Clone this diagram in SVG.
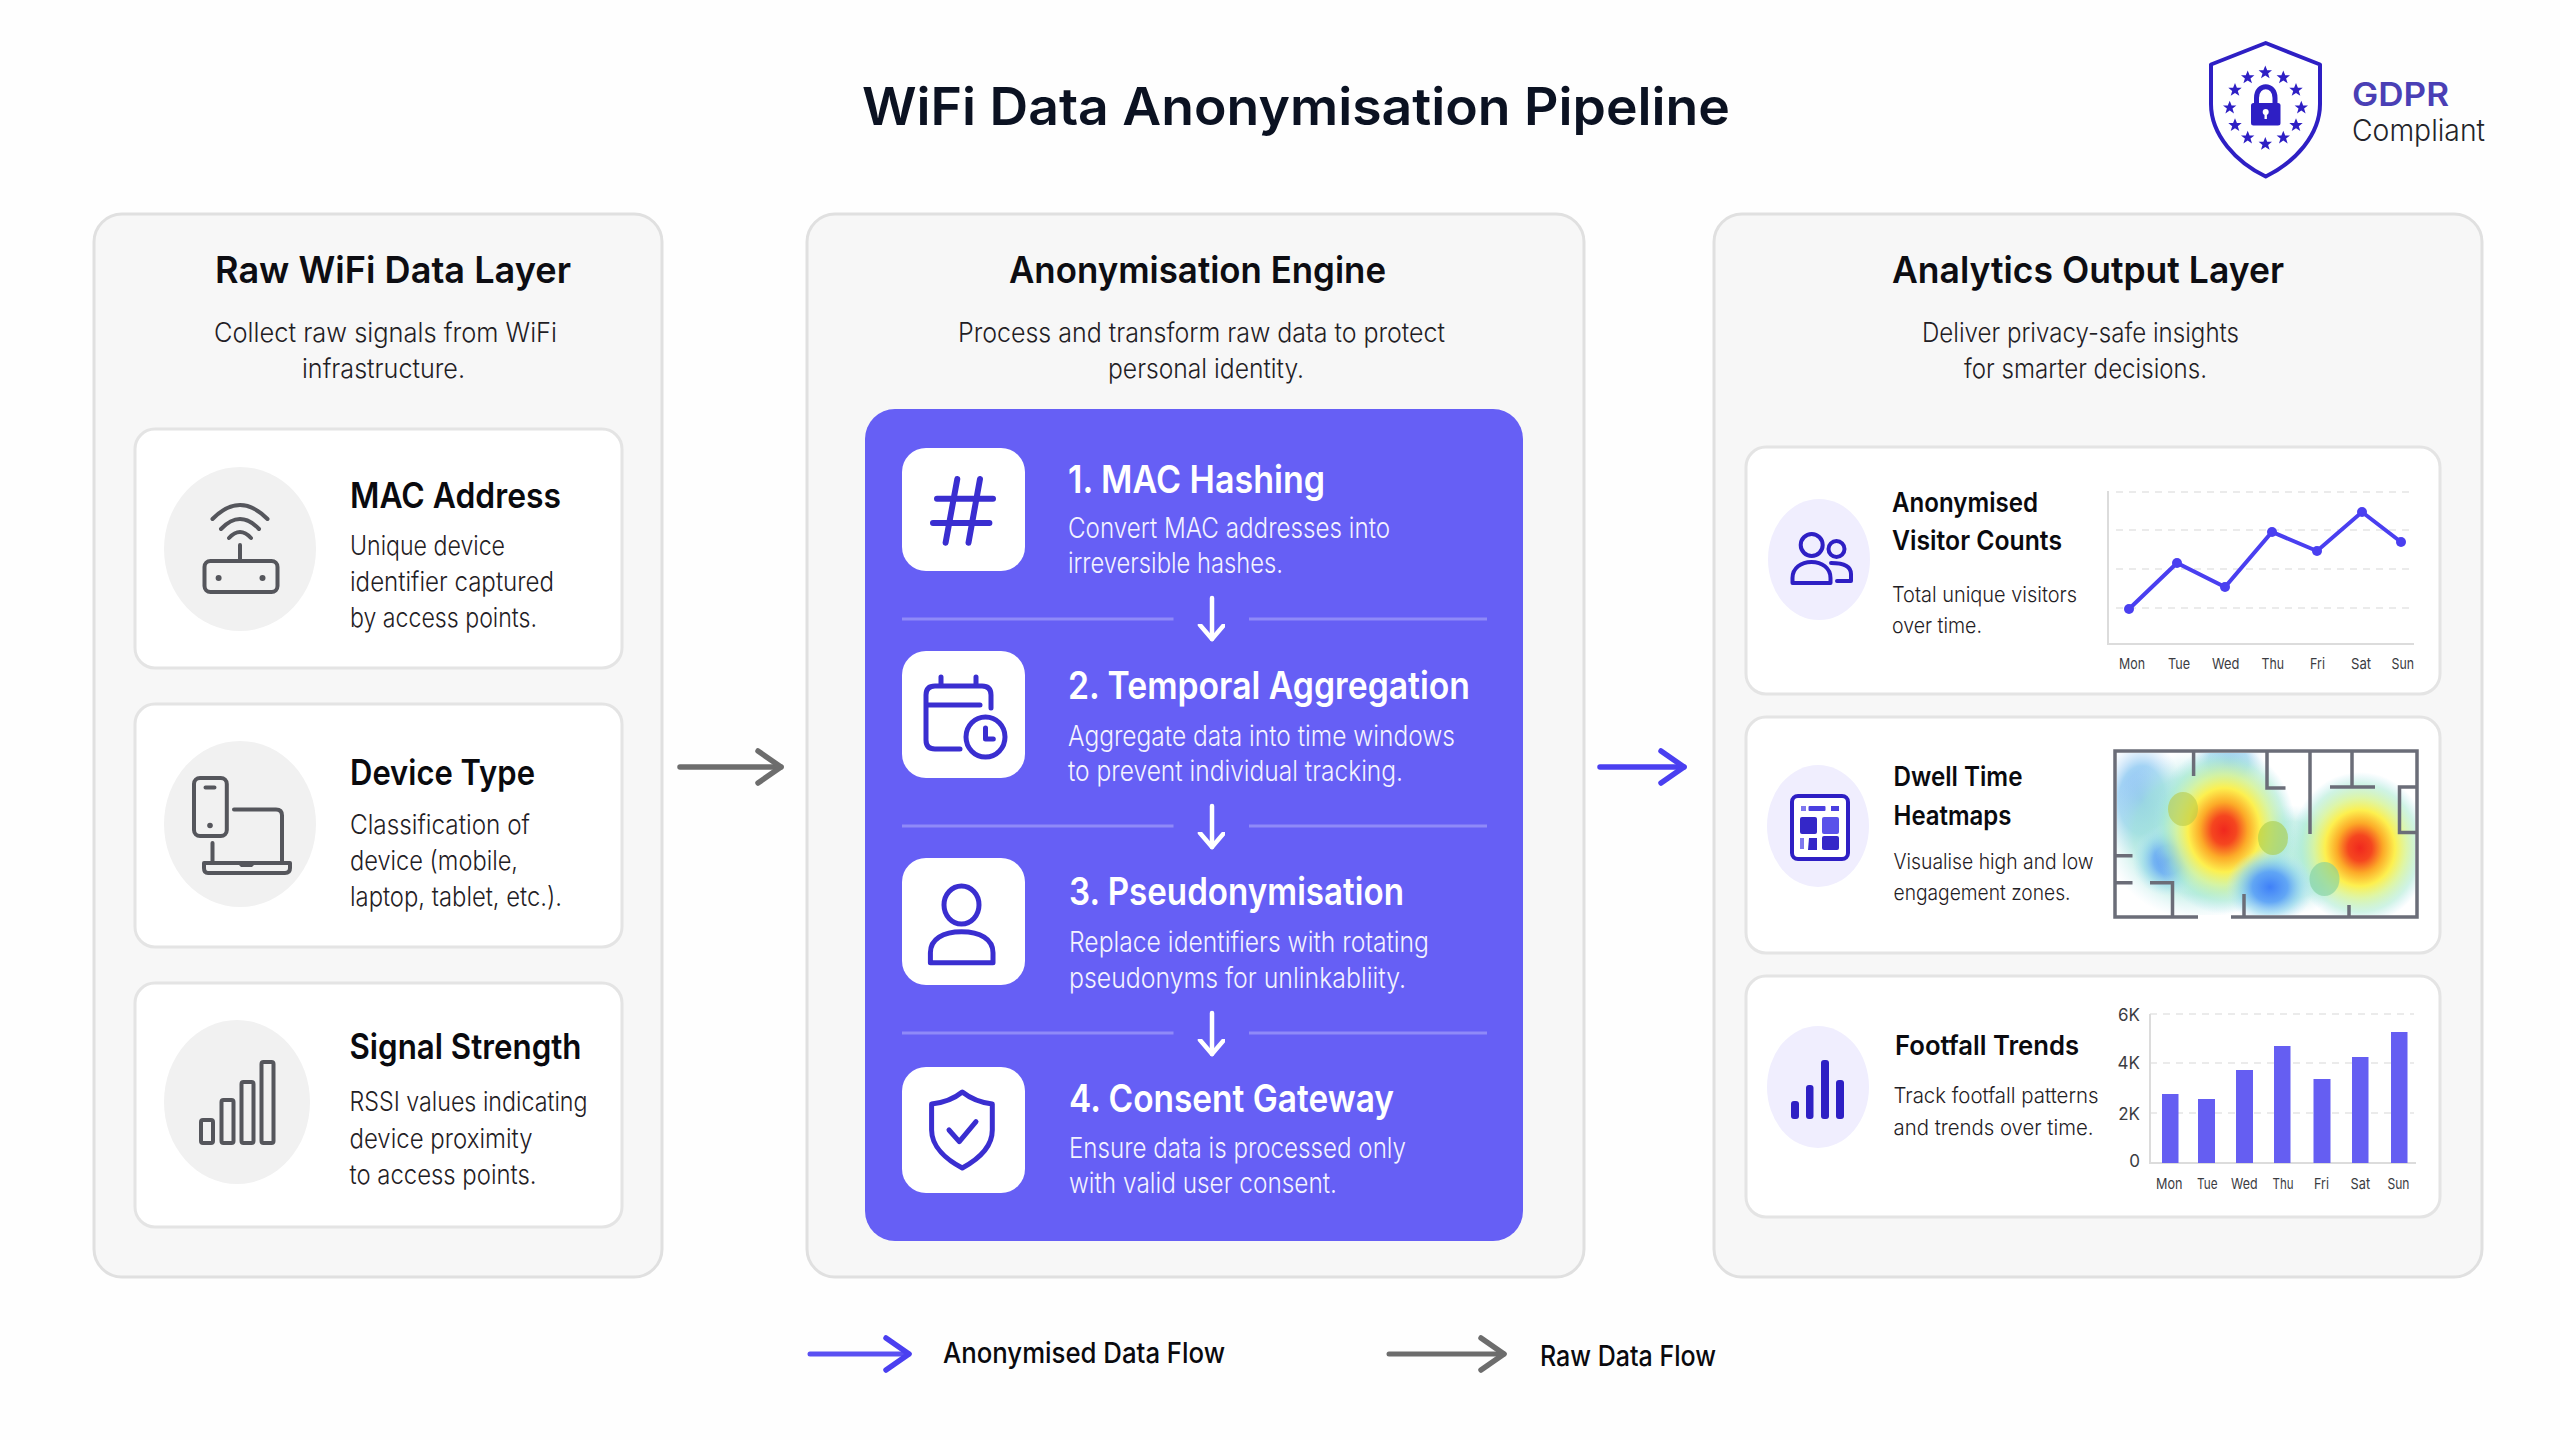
<svg xmlns="http://www.w3.org/2000/svg" width="2560" height="1440" viewBox="0 0 2560 1440">
<style>
text{font-family:"Inter","Liberation Sans",sans-serif}
.panel{fill:#f7f7f7;stroke:#e0e0e0;stroke-width:3}
.card{fill:#fff;stroke:#e4e4e4;stroke-width:3}
.ph{font-size:37px;font-weight:600;fill:#0d0d12}
.ps{font-size:27px;font-weight:300;fill:#1f2024}
.ct{font-size:35px;font-weight:600;fill:#0a0a0e}
.cb{font-size:27px;font-weight:300;fill:#1f2024}
.st{font-size:38px;font-weight:600;fill:#fff}
.sb{font-size:28px;font-weight:300;fill:#f4f3ff}
.at{font-size:27px;font-weight:600;fill:#0a0a0e}
.ab{font-size:22px;font-weight:300;fill:#1f2024}
.ax{font-size:15px;font-weight:400;fill:#3b3c42}
.gi{fill:none;stroke:#55565c;stroke-width:4;stroke-linecap:round;stroke-linejoin:round}
.bi{fill:none;stroke:#3a2ed0;stroke-width:5;stroke-linecap:round;stroke-linejoin:round}
.vi{fill:none;stroke:#2e1fc4;stroke-width:4;stroke-linecap:round;stroke-linejoin:round}
.grid{stroke:#ebebeb;stroke-width:2;stroke-dasharray:7 6;fill:none}
.axis{stroke:#dcdcdc;stroke-width:2;fill:none}
.wall{stroke:#6b6d78;stroke-width:3.5;fill:none}
.div{stroke:#8f8af8;stroke-width:3}
.bar{fill:#655ef2}
.dot{fill:#4a3ff0}
.lc{fill:#f1f1f1}
.vc{fill:#f0eefe}
.box{fill:#fff}
</style>
<defs>
<radialGradient id="hot">
<stop offset="0" stop-color="#f0281e"/>
<stop offset=".17" stop-color="#f5461f"/>
<stop offset=".33" stop-color="#fcaa28"/>
<stop offset=".5" stop-color="#fdf04f"/>
<stop offset=".66" stop-color="#d8f498" stop-opacity=".85"/>
<stop offset=".84" stop-color="#a8ead0" stop-opacity=".55"/>
<stop offset="1" stop-color="#a8e0f0" stop-opacity="0"/>
</radialGradient>
<radialGradient id="cold">
<stop offset="0" stop-color="#3f80f8"/>
<stop offset=".4" stop-color="#5ca2f6" stop-opacity=".95"/>
<stop offset=".7" stop-color="#90d4ee" stop-opacity=".65"/>
<stop offset="1" stop-color="#c0e8f8" stop-opacity="0"/>
</radialGradient>
<radialGradient id="pale">
<stop offset="0" stop-color="#7fb3f5"/>
<stop offset=".55" stop-color="#8cc8f2" stop-opacity=".8"/>
<stop offset="1" stop-color="#d0e4fa" stop-opacity="0"/>
</radialGradient>
<radialGradient id="teal">
<stop offset="0" stop-color="#9fe8cc"/>
<stop offset=".7" stop-color="#a6e8d8" stop-opacity=".8"/>
<stop offset="1" stop-color="#c8ecf6" stop-opacity="0"/>
</radialGradient>
<clipPath id="hm"><rect x="2117" y="753" width="298" height="162"/></clipPath>
<marker id="ag" markerUnits="userSpaceOnUse" markerWidth="40" markerHeight="44" refX="26" refY="20" orient="auto"><path d="M3 4L26 20L3 36" fill="none" stroke="#6d6d6d" stroke-width="5.5" stroke-linecap="round" stroke-linejoin="round"/></marker>
<marker id="ab" markerUnits="userSpaceOnUse" markerWidth="40" markerHeight="44" refX="26" refY="20" orient="auto"><path d="M3 4L26 20L3 36" fill="none" stroke="#4a3ff0" stroke-width="5.5" stroke-linecap="round" stroke-linejoin="round"/></marker>
<marker id="aw" markerUnits="userSpaceOnUse" markerWidth="20" markerHeight="30" refX="15" refY="13" orient="auto"><path d="M1 1L15 13L1 25" fill="none" stroke="#fff" stroke-width="4.5" stroke-linecap="round" stroke-linejoin="round"/></marker>
<path id="star" d="M0-7L1.900-2.200L6.700-2.200L2.800.9L4.300 5.800L0 2.900L-4.300 5.800L-2.800.9L-6.700-2.200L-1.900-2.200Z" fill="#2e1fc4"/>
</defs>
<rect width="2560" height="1440" fill="#fefefe"/>

<g id="title"><text x="862" y="125" font-size="52" font-weight="600" fill="#0b1222" textLength="868" lengthAdjust="spacingAndGlyphs">WiFi Data Anonymisation Pipeline</text></g>

<g id="gdpr-badge">
<path d="M2265.700 43L2211 64.500V104C2211 135 2236 162 2265.700 176.500C2295 162 2320 135 2320 104V64.500Z" fill="#fff" stroke="#2e1fc4" stroke-width="4" stroke-linejoin="round"/>
<use href="#star" x="2265.300" y="72.500"/><use href="#star" x="2283.300" y="77.500"/><use href="#star" x="2296" y="90"/><use href="#star" x="2301.300" y="107.700"/><use href="#star" x="2296" y="125.300"/><use href="#star" x="2283.300" y="137.700"/><use href="#star" x="2265.300" y="144"/><use href="#star" x="2247.700" y="137.700"/><use href="#star" x="2235" y="125.300"/><use href="#star" x="2229.700" y="107.700"/><use href="#star" x="2235" y="90"/><use href="#star" x="2247.700" y="77.500"/>
<path d="M2256.500 104V98C2256.500 83 2275 83 2275 98V104" fill="none" stroke="#2e1fc4" stroke-width="5"/>
<rect x="2251" y="103" width="29.500" height="22.500" rx="2.500" fill="#2e1fc4"/>
<circle cx="2265.700" cy="112" r="3" fill="#fff"/><rect x="2264.500" y="112" width="2.400" height="7" fill="#fff"/>
<text x="2352" y="105.500" font-size="33" font-weight="600" fill="#4a3fb5" textLength="97" lengthAdjust="spacingAndGlyphs">GDPR</text>
<text x="2352" y="141" font-size="30" font-weight="300" fill="#23242a" textLength="133" lengthAdjust="spacingAndGlyphs">Compliant</text>
</g>

<g id="panel-raw">
<rect class="panel" x="94" y="214" width="568" height="1063" rx="28"/>
<text class="ph" x="215" y="283" textLength="356" lengthAdjust="spacingAndGlyphs">Raw WiFi Data Layer</text>
<text class="ps" x="214" y="342" textLength="343" lengthAdjust="spacingAndGlyphs">Collect raw signals from WiFi</text>
<text class="ps" x="302" y="378" textLength="163" lengthAdjust="spacingAndGlyphs">infrastructure.</text>
</g>

<g id="node-mac">
<rect class="card" x="135" y="429" width="487" height="239" rx="20"/>
<ellipse class="lc" cx="240" cy="549" rx="76" ry="82"/>
<path class="gi" d="M212.500 519Q240 491 267.500 519M221 529Q240 509 259 529M229 538Q240 526 251 538M240 545V561"/>
<rect class="gi" x="204.500" y="561" width="73" height="31" rx="6"/>
<circle cx="218.600" cy="578" r="3" fill="#55565c"/><circle cx="262.500" cy="578" r="3" fill="#55565c"/>
<text class="ct" x="350" y="508" textLength="211" lengthAdjust="spacingAndGlyphs">MAC Address</text>
<text class="cb" x="350" y="555" textLength="155" lengthAdjust="spacingAndGlyphs">Unique device</text>
<text class="cb" x="350" y="591" textLength="204" lengthAdjust="spacingAndGlyphs">identifier captured</text>
<text class="cb" x="350" y="627" textLength="187" lengthAdjust="spacingAndGlyphs">by access points.</text>
</g>

<g id="node-device">
<rect class="card" x="135" y="704" width="487" height="243" rx="20"/>
<ellipse class="lc" cx="240" cy="824" rx="76" ry="83"/>
<rect class="gi" x="194" y="778" width="32.800" height="58" rx="6"/>
<path class="gi" d="M205.500 787.500H214.500M234 809.500H276Q282 809.500 282 815.500V863M212.500 843V863"/>
<circle cx="210" cy="825.500" r="2.800" fill="#55565c"/>
<path class="gi" d="M204 863H290V868Q290 873 285 873H208Q204 873 204 868Z"/>
<path d="M238 864H255L252 867H241Z" fill="#55565c"/>
<text class="ct" x="350" y="785" textLength="185" lengthAdjust="spacingAndGlyphs">Device Type</text>
<text class="cb" x="350" y="834" textLength="180" lengthAdjust="spacingAndGlyphs">Classification of</text>
<text class="cb" x="350" y="870" textLength="168" lengthAdjust="spacingAndGlyphs">device (mobile,</text>
<text class="cb" x="350" y="906" textLength="212" lengthAdjust="spacingAndGlyphs">laptop, tablet, etc.).</text>
</g>

<g id="node-signal">
<rect class="card" x="135" y="983" width="487" height="244" rx="20"/>
<ellipse class="lc" cx="237" cy="1102" rx="73" ry="82"/>
<rect class="gi" x="201" y="1120" width="12" height="23" rx="2"/>
<rect class="gi" x="221.500" y="1100" width="12" height="43" rx="2"/>
<rect class="gi" x="241.500" y="1082" width="12" height="61" rx="2"/>
<rect class="gi" x="261.500" y="1062" width="12" height="81" rx="2"/>
<text class="ct" x="349.500" y="1059" textLength="232" lengthAdjust="spacingAndGlyphs">Signal Strength</text>
<text class="cb" x="349.500" y="1111" textLength="238" lengthAdjust="spacingAndGlyphs">RSSI values indicating</text>
<text class="cb" x="349.500" y="1148" textLength="183" lengthAdjust="spacingAndGlyphs">device proximity</text>
<text class="cb" x="349.500" y="1184" textLength="187" lengthAdjust="spacingAndGlyphs">to access points.</text>
</g>

<g id="panel-engine">
<rect class="panel" x="807" y="214" width="777" height="1063" rx="28"/>
<text class="ph" x="1009" y="283" textLength="377" lengthAdjust="spacingAndGlyphs">Anonymisation Engine</text>
<text class="ps" x="958" y="342" textLength="487" lengthAdjust="spacingAndGlyphs">Process and transform raw data to protect</text>
<text class="ps" x="1108" y="378" textLength="196" lengthAdjust="spacingAndGlyphs">personal identity.</text>
<rect x="865" y="409" width="658" height="832" rx="30" fill="#665ff5"/>
</g>

<g id="step-hash">
<rect class="box" x="902" y="448" width="123" height="123" rx="24"/>
<path class="bi" d="M957.300 479L945.600 542.700M980 479L968.500 542.700M937 498.700H993M933 523H989.400" style="stroke-width:6"/>
<text class="st" x="1068" y="493" textLength="257" lengthAdjust="spacingAndGlyphs">1. MAC Hashing</text>
<text class="sb" x="1068" y="538" textLength="322" lengthAdjust="spacingAndGlyphs">Convert MAC addresses into</text>
<text class="sb" x="1068" y="573" textLength="215" lengthAdjust="spacingAndGlyphs">irreversible hashes.</text>
</g>

<g id="step-temporal">
<rect class="box" x="902" y="651" width="123" height="127" rx="24"/>
<path class="bi" d="M991 708V695Q991 686 982 686H935Q926 686 926 695V740Q926 749 935 749H960M926 705H980M941 677V686M976 677V686M985.500 728V739H993.300"/>
<ellipse class="bi" cx="985.500" cy="737" rx="19.500" ry="20"/>
<text class="st" x="1068" y="699" textLength="402" lengthAdjust="spacingAndGlyphs">2. Temporal Aggregation</text>
<text class="sb" x="1068" y="746" textLength="387" lengthAdjust="spacingAndGlyphs">Aggregate data into time windows</text>
<text class="sb" x="1068" y="781" textLength="335" lengthAdjust="spacingAndGlyphs">to prevent individual tracking.</text>
</g>

<g id="step-pseudo">
<rect class="box" x="902" y="858" width="123" height="127" rx="24"/>
<ellipse class="bi" cx="961.500" cy="905" rx="17.500" ry="19"/>
<path class="bi" d="M930.400 962.700V952.700C930.400 939 943 931.700 961.600 931.700C980 931.700 993 939 993 952.700V962.700Z"/>
<text class="st" x="1069" y="905" textLength="335" lengthAdjust="spacingAndGlyphs">3. Pseudonymisation</text>
<text class="sb" x="1069" y="952" textLength="360" lengthAdjust="spacingAndGlyphs">Replace identifiers with rotating</text>
<text class="sb" x="1069" y="987.500" textLength="337" lengthAdjust="spacingAndGlyphs">pseudonyms for unlinkabliity.</text>
</g>

<g id="step-consent">
<rect class="box" x="902" y="1067" width="123" height="126" rx="24"/>
<path class="bi" d="M962.300 1092Q950 1102 931.600 1104V1130C931.600 1147 947 1160 962.300 1168C977 1160 992.300 1147 992.300 1130V1104Q975 1102 962.300 1092Z"/>
<path class="bi" d="M949 1130L959.300 1141.700L976 1121.700"/>
<text class="st" x="1069" y="1112" textLength="325" lengthAdjust="spacingAndGlyphs">4. Consent Gateway</text>
<text class="sb" x="1069" y="1158" textLength="337" lengthAdjust="spacingAndGlyphs">Ensure data is processed only</text>
<text class="sb" x="1069" y="1193" textLength="268" lengthAdjust="spacingAndGlyphs">with valid user consent.</text>
</g>

<g id="panel-output">
<rect class="panel" x="1714" y="214" width="768" height="1063" rx="28"/>
<text class="ph" x="1892" y="283" textLength="392" lengthAdjust="spacingAndGlyphs">Analytics Output Layer</text>
<text class="ps" x="1922" y="342" textLength="317" lengthAdjust="spacingAndGlyphs">Deliver privacy-safe insights</text>
<text class="ps" x="1964" y="378" textLength="243" lengthAdjust="spacingAndGlyphs">for smarter decisions.</text>
</g>

<g id="node-visitors">
<rect class="card" x="1746" y="447" width="694" height="247" rx="20"/>
<ellipse class="vc" cx="1819" cy="559.500" rx="51" ry="60.500"/>
<circle class="vi" cx="1811.700" cy="545" r="11"/><circle class="vi" cx="1836.500" cy="549" r="8"/>
<path class="vi" d="M1792.500 583V578C1792.500 568 1801 562 1811.500 562C1822 562 1830.500 568 1830.500 578V583ZM1831 563Q1851 563 1851 574V581H1837"/>
<text class="at" x="1892" y="512" textLength="146" lengthAdjust="spacingAndGlyphs">Anonymised</text>
<text class="at" x="1892" y="550" textLength="170" lengthAdjust="spacingAndGlyphs">Visitor Counts</text>
<text class="ab" x="1892" y="602" textLength="185" lengthAdjust="spacingAndGlyphs">Total unique visitors</text>
<text class="ab" x="1892" y="633" textLength="90" lengthAdjust="spacingAndGlyphs">over time.</text>
<path class="grid" d="M2116 492H2414M2116 530H2414M2116 569H2414M2116 608H2414"/>
<path class="axis" d="M2108 491V644H2414"/>
<polyline points="2129,609 2177,563 2225,587 2272,532 2317,551 2362,512 2401,542" fill="none" stroke="#4a3ff0" stroke-width="4"/>
<circle class="dot" cx="2129" cy="609" r="5"/><circle class="dot" cx="2177" cy="563" r="5"/><circle class="dot" cx="2225" cy="587" r="5"/><circle class="dot" cx="2272" cy="532" r="5"/><circle class="dot" cx="2317" cy="551" r="5"/><circle class="dot" cx="2362" cy="512" r="5"/><circle class="dot" cx="2401" cy="542" r="5"/>
<text class="ax" x="2119" y="669" textLength="26" lengthAdjust="spacingAndGlyphs">Mon</text><text class="ax" x="2168" y="669" textLength="22" lengthAdjust="spacingAndGlyphs">Tue</text><text class="ax" x="2212" y="669" textLength="27.500" lengthAdjust="spacingAndGlyphs">Wed</text><text class="ax" x="2261.500" y="669" textLength="22.500" lengthAdjust="spacingAndGlyphs">Thu</text><text class="ax" x="2310" y="669" textLength="15" lengthAdjust="spacingAndGlyphs">Fri</text><text class="ax" x="2351" y="669" textLength="20" lengthAdjust="spacingAndGlyphs">Sat</text><text class="ax" x="2391.500" y="669" textLength="22.500" lengthAdjust="spacingAndGlyphs">Sun</text>
</g>

<g id="node-heatmaps">
<rect class="card" x="1746" y="717" width="694" height="236" rx="20"/>
<ellipse class="vc" cx="1818" cy="826" rx="51" ry="61"/>
<rect x="1792" y="796" width="56" height="63" rx="6" fill="#fff" stroke="#2e1fc4" stroke-width="4"/>
<rect x="1801" y="806" width="5" height="5" fill="#7f78ee"/><rect x="1808.500" y="806" width="17" height="5" rx="1" fill="#4a3fe0"/><rect x="1831" y="806" width="8" height="5" fill="#4a3fe0"/>
<rect x="1800" y="817" width="17" height="17" rx="2" fill="#3427c8"/><rect x="1822" y="817" width="17" height="17" rx="2" fill="#5a52ea"/>
<path d="M1800 838L1804 838L1804 849H1800Z" fill="#7f78ee"/><path d="M1809 838H1817V850H1808Z" fill="#3427c8"/><rect x="1822" y="836" width="17" height="14" rx="2" fill="#3427c8"/>
<text class="at" x="1893.500" y="786" textLength="129" lengthAdjust="spacingAndGlyphs">Dwell Time</text>
<text class="at" x="1893.500" y="825" textLength="118" lengthAdjust="spacingAndGlyphs">Heatmaps</text>
<text class="ab" x="1893.500" y="869" textLength="200" lengthAdjust="spacingAndGlyphs">Visualise high and low</text>
<text class="ab" x="1893.500" y="900" textLength="177" lengthAdjust="spacingAndGlyphs">engagement zones.</text>
<g clip-path="url(#hm)">
<ellipse cx="2142" cy="800" rx="42" ry="62" fill="url(#pale)"/>
<ellipse cx="2228" cy="762" rx="36" ry="32" fill="url(#pale)" opacity=".8"/>
<ellipse cx="2200" cy="835" rx="95" ry="85" fill="url(#teal)" opacity=".8"/>
<ellipse cx="2290" cy="860" rx="60" ry="55" fill="url(#teal)" opacity=".7"/>
<ellipse cx="2168" cy="860" rx="36" ry="36" fill="url(#cold)" opacity=".8"/>
<ellipse cx="2224" cy="830" rx="72" ry="84" fill="url(#hot)"/>
<ellipse cx="2360" cy="848" rx="70" ry="76" fill="url(#hot)"/>
<ellipse cx="2270" cy="887" rx="44" ry="38" fill="url(#cold)"/>
<ellipse cx="2183" cy="809" rx="15" ry="17" fill="#b9c948" opacity=".6"/>
<ellipse cx="2273" cy="838" rx="15" ry="17" fill="#a8cc48" opacity=".6"/>
<ellipse cx="2324.500" cy="879" rx="15" ry="17" fill="#7fcf9c" opacity=".6"/>
</g>
<path class="wall" d="M2198 917H2115V751H2417V917H2231M2417 832.500H2399.500V787H2417M2193.600 751V776M2267 751V788H2285.500M2310 751V834M2352 751V787M2330 787H2375M2115 855.700H2132.500M2115 882.700H2132.500M2150 882.700H2172.500V917M2244 894V917M2349 905V917"/>
</g>

<g id="node-footfall">
<rect class="card" x="1746" y="976" width="694" height="241" rx="20"/>
<ellipse class="vc" cx="1818" cy="1087" rx="51" ry="61"/>
<rect x="1791" y="1101" width="8" height="18" rx="3" fill="#2e1fc4"/><rect x="1806" y="1085" width="7.500" height="34" rx="3" fill="#2e1fc4"/><rect x="1821" y="1060" width="8" height="59" rx="3" fill="#2e1fc4"/><rect x="1836" y="1080" width="8" height="39" rx="3" fill="#2e1fc4"/>
<text class="at" x="1895" y="1055" textLength="184" lengthAdjust="spacingAndGlyphs">Footfall Trends</text>
<text class="ab" x="1893.500" y="1103" textLength="205" lengthAdjust="spacingAndGlyphs">Track footfall patterns</text>
<text class="ab" x="1893.500" y="1135" textLength="200" lengthAdjust="spacingAndGlyphs">and trends over time.</text>
<path class="grid" d="M2150 1014H2414M2150 1063H2414M2150 1113H2414"/>
<path class="axis" d="M2150 1014V1163H2416"/>
<rect class="bar" x="2162" y="1094" width="16.500" height="69"/><rect class="bar" x="2198" y="1099" width="17" height="64"/><rect class="bar" x="2236" y="1070" width="17" height="93"/><rect class="bar" x="2274" y="1046" width="16.500" height="117"/><rect class="bar" x="2313.500" y="1079" width="17" height="84"/><rect class="bar" x="2352" y="1057" width="16.500" height="106"/><rect class="bar" x="2391" y="1032" width="16.500" height="131"/>
<g style="font-size:17px;fill:#3b3c42"><text x="2140" y="1021" text-anchor="end">6K</text><text x="2140" y="1069" text-anchor="end">4K</text><text x="2140" y="1120" text-anchor="end">2K</text><text x="2140" y="1167" text-anchor="end">0</text></g>
<text class="ax" x="2156" y="1189" textLength="26.500" lengthAdjust="spacingAndGlyphs">Mon</text><text class="ax" x="2197" y="1189" textLength="20.500" lengthAdjust="spacingAndGlyphs">Tue</text><text class="ax" x="2231" y="1189" textLength="26.500" lengthAdjust="spacingAndGlyphs">Wed</text><text class="ax" x="2272.600" y="1189" textLength="21" lengthAdjust="spacingAndGlyphs">Thu</text><text class="ax" x="2314" y="1189" textLength="15" lengthAdjust="spacingAndGlyphs">Fri</text><text class="ax" x="2350.600" y="1189" textLength="19.500" lengthAdjust="spacingAndGlyphs">Sat</text><text class="ax" x="2387.400" y="1189" textLength="22" lengthAdjust="spacingAndGlyphs">Sun</text>
</g>

<g id="connectors" fill="none">
<path d="M680 767H781" stroke="#6d6d6d" stroke-width="5.500" stroke-linecap="round" marker-end="url(#ag)"/>
<path d="M1600 767H1684" stroke="#4a3ff0" stroke-width="5.500" stroke-linecap="round" marker-end="url(#ab)"/>
<path d="M1212 598V639" stroke="#fff" stroke-width="4.500" stroke-linecap="round" marker-end="url(#aw)"/>
<path d="M1212 806V847" stroke="#fff" stroke-width="4.500" stroke-linecap="round" marker-end="url(#aw)"/>
<path d="M1212 1013V1054" stroke="#fff" stroke-width="4.500" stroke-linecap="round" marker-end="url(#aw)"/>
<path class="div" d="M902 619H1173.500M1249 619H1487M902 826H1173.500M1249 826H1487M902 1033H1173.500M1249 1033H1487"/>
</g>

<g id="legend">
<path d="M810 1354H909" stroke="#5a50f2" stroke-width="5" stroke-linecap="round" fill="none" marker-end="url(#ab)"/>
<text x="943" y="1363" font-size="28" font-weight="500" fill="#0a0a0e" textLength="282" lengthAdjust="spacingAndGlyphs">Anonymised Data Flow</text>
<path d="M1389 1354H1504" stroke="#6d6d6d" stroke-width="5" stroke-linecap="round" fill="none" marker-end="url(#ag)"/>
<text x="1540" y="1366" font-size="28" font-weight="500" fill="#0a0a0e" textLength="176" lengthAdjust="spacingAndGlyphs">Raw Data Flow</text>
</g>
</svg>
